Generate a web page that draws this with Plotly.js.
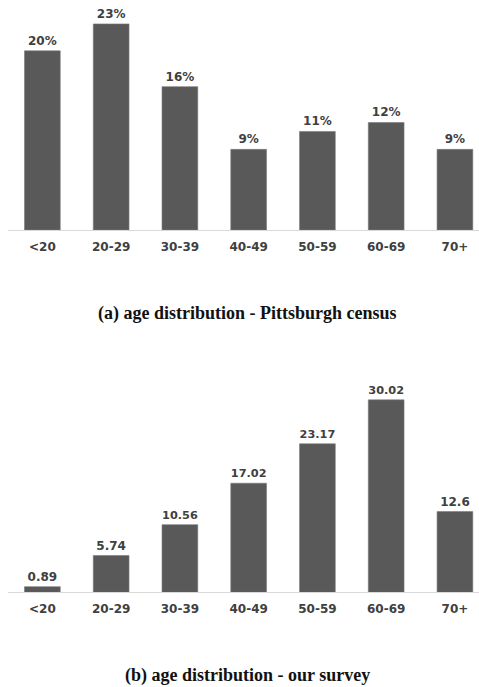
<!DOCTYPE html>
<html>
<head>
<meta charset="utf-8">
<script src="https://cdn.plot.ly/plotly-3.0.1.min.js"></script>
<style>html,body{margin:0;padding:0;background:#fff;}#chart{width:479px;height:687px;}</style>
</head>
<body>
<div id="chart"></div>
<script>
const categories = ["<20", "20-29", "30-39", "40-49", "50-59", "60-69", "70+"];
const censusValues = [20, 23, 16, 9, 11, 12, 9];
const surveyValues = [0.89, 5.74, 10.56, 17.02, 23.17, 30.02, 12.6];
const captionA = "(a) age distribution - Pittsburgh census";
const captionB = "(b) age distribution - our survey";

const barColor = "#595959";
const textColor = "#404040";
const labelFont = {family: "DejaVu Sans", size: 12, color: textColor, weight: "bold"};

const traces = [
  {type: "bar", x: categories, y: censusValues, xaxis: "x", yaxis: "y",
   marker: {color: barColor, line: {color: "#7a7a7a", width: 0.6}},
   width: 0.52, text: censusValues.map(v => v + "%"), textposition: "outside",
   textfont: labelFont, cliponaxis: false, hoverinfo: "none"},
  {type: "bar", x: categories, y: surveyValues, xaxis: "x2", yaxis: "y2",
   marker: {color: barColor, line: {color: "#7a7a7a", width: 0.6}},
   width: 0.52, text: surveyValues.map(v => String(v)), textposition: "outside",
   textfont: labelFont, cliponaxis: false, hoverinfo: "none"}
];

const xCommon = {
  type: "category", range: [-0.5, 6.35], showline: true, linecolor: "#d9d9d9", linewidth: 1,
  showgrid: false, zeroline: false, ticks: "", tickfont: labelFont, fixedrange: true
};
const yCommon = {showgrid: false, zeroline: false, showticklabels: false, showline: false, ticks: "", fixedrange: true};

const captionFont = {family: "Liberation Serif", size: 18, color: "#111"};

const layout = {
  width: 479, height: 687,
  margin: {l: 0, r: 0, t: 0, b: 0},
  paper_bgcolor: "#fff", plot_bgcolor: "#fff",
  showlegend: false,
  xaxis: Object.assign({}, xCommon, {domain: [0.0167, 1], anchor: "y", ticklabelstandoff: 6}),
  yaxis: Object.assign({}, yCommon, {domain: [0.6652, 1], range: [0, 25.67], anchor: "x"}),
  xaxis2: Object.assign({}, xCommon, {domain: [0.0167, 1], anchor: "y2", ticklabelstandoff: 5}),
  yaxis2: Object.assign({}, yCommon, {domain: [0.1378, 0.4469], range: [0, 33.12], anchor: "x2"}),
  annotations: [
    {text: "<b>" + captionA + "</b>", xref: "paper", yref: "paper", x: 0.517, y: 1 - 313 / 687,
     xanchor: "center", yanchor: "middle", showarrow: false, font: captionFont},
    {text: "<b>" + captionB + "</b>", xref: "paper", yref: "paper", x: 0.517, y: 1 - 675 / 687,
     xanchor: "center", yanchor: "middle", showarrow: false, font: captionFont}
  ]
};

Plotly.newPlot("chart", traces, layout, {displayModeBar: false, staticPlot: true});
</script>
</body>
</html>
